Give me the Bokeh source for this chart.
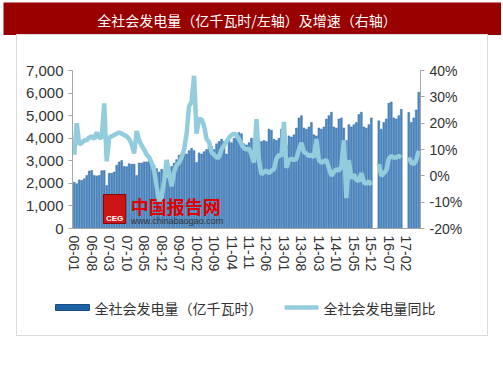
import numpy as np
from bokeh.plotting import figure
from bokeh.models import (Range1d, LinearAxis, FixedTicker, NumeralTickFormatter,
                          PrintfTickFormatter, ColumnDataSource, Spacer)
from bokeh.layouts import column, row
from bokeh.core.properties import value
from bokeh.embed import file_html
from bokeh.resources import INLINE

nan = float("nan")

title_text = "全社会发电量（亿千瓦时/左轴）及增速（右轴）"
bar_label = "全社会发电量（亿千瓦时）"
line_label = "全社会发电量同比"

# months 06-01 ... 17-07
months = [f"{y:02d}-{m:02d}" for y in range(6, 18) for m in range(1, 13)][:139]
tick_labels = ["06-01", "06-08", "07-03", "07-10", "08-05", "08-12", "09-07", "10-02",
               "10-09", "11-04", "11-11", "12-06", "13-01", "13-08", "14-03", "14-10",
               "15-05", "15-12", "16-07", "17-02"]

# 全社会发电量 (亿千瓦时)
gen_2006 = [2050, 1980, 2150, 2130, 2200, 2350, 2550, 2570, 2350, 2330, 2350, 2560]
gen_2007 = [2570, 1900, 2450, 2450, 2500, 2800, 2950, 3010, 2750, 2740, 2870, 2850]
gen_2008 = [2850, 2350, 2900, 2900, 2950, 2950, 3000, 3000, 2800, 2650, 2500, 2620]
gen_2009 = [2450, 2250, 2700, 2750, 2900, 3050, 3250, 3300, 3350, 3300, 3450, 3550]
gen_2010 = [3450, 2920, 3350, 3300, 3400, 3500, 3650, 3650, 3500, 3750, 3850, 3950]
gen_2011 = [3850, 3300, 3900, 3800, 4000, 4050, 4250, 4200, 3750, 3700, 3800, 4000]
gen_2012 = [3600, 3950, 3950, 3850, 3900, 3850, 4400, 4350, 3950, 3900, 4000, 4400]
gen_2013 = [4150, 3680, 4100, 4050, 4150, 4450, 4900, 5000, 4450, 4400, 4500, 4700]
gen_2014 = [4150, 4100, 4450, 4400, 4500, 4850, 5000, 5150, 4500, 4450, 4850, 4900]
gen_2015 = [4450, 3900, 4600, 4500, 4600, 4700, 5050, 5150, 4500, 4450, 4600, 4900]
gen_2016 = [nan, nan, 4770, 4400, 4700, 4850, 5550, 5600, 4900, 4850, 5000, 5280]
gen_2017 = [nan, nan, 5140, 4700, 4900, 5250, 6040]

# 全社会发电量同比 (%)
yoy_2006 = [8.0, 20.0, 12.0, 12.5, 13.5, 13.5, 14.5, 15.0, 14.0, 16.5, 14.5, 14.5]
yoy_2007 = [27.5, 5.5, 14.5, 15.0, 15.5, 16.0, 16.5, 16.0, 15.5, 15.0, 14.0, 12.0]
yoy_2008 = [8.5, 17.0, 13.5, 11.5, 10.0, 8.0, 7.0, 5.0, 2.0, -4.0, -9.5, -8.0]
yoy_2009 = [-2.0, 6.0, 1.0, -4.0, 1.5, 4.0, 5.0, 7.0, 10.0, 16.0, 26.5, 28.0]
yoy_2010 = [38.0, 16.0, 21.5, 21.5, 19.0, 14.0, 12.8, 9.0, 8.0, 7.0, 7.0, 10.0]
yoy_2011 = [11.5, 13.0, 14.5, 15.5, 16.0, 15.5, 14.0, 12.0, 10.5, 10.0, 10.5, 8.0]
yoy_2012 = [5.0, 21.5, 6.0, 0.5, 1.5, 2.0, 1.0, 2.0, 2.5, 6.5, 8.0, 7.5]
yoy_2013 = [20.5, 3.0, 6.0, 6.5, 6.0, 6.5, 10.0, 12.5, 9.0, 8.5, 7.5, 8.0]
yoy_2014 = [7.0, 14.0, 6.0, 5.0, 5.5, 6.0, 3.0, 0.0, 1.5, 2.5, 2.0, 3.5]
yoy_2015 = [13.5, -8.5, 6.0, -1.0, 0.5, -1.5, -2.0, 1.0, -2.5, -3.0, -2.0, -3.5]
yoy_2016 = [nan, nan, 4.5, 0.0, 1.0, 2.0, 6.5, 7.5, 7.0, 7.0, 7.5, 7.0]
yoy_2017 = [nan, nan, 7.0, 5.0, 4.5, 6.0, 9.5]

gen = (gen_2006 + gen_2007 + gen_2008 + gen_2009 + gen_2010 + gen_2011 + gen_2012 +
       gen_2013 + gen_2014 + gen_2015 + gen_2016 + gen_2017)
yoy = (yoy_2006 + yoy_2007 + yoy_2008 + yoy_2009 + yoy_2010 + yoy_2011 + yoy_2012 +
       yoy_2013 + yoy_2014 + yoy_2015 + yoy_2016 + yoy_2017)

idx = list(range(len(months)))
src = ColumnDataSource(dict(x=idx, gen=gen, yoy=yoy, m=months))

FONT = "Liberation Sans"
CJK = "Noto Sans CJK SC"
BAR_FILL = "#4F8AC2"
BAR_LINE = "#2A67A6"
LINE_COL = "#93CDDD"
ax_col = "#A6A6A6"
lab_col = "#333333"

# ---- title bar ----
pt = figure(width=498, height=33, x_range=(0, 1), y_range=(0, 1),
            toolbar_location=None, output_backend="svg", min_border=0,
            background_fill_color="#990000", border_fill_color="#990000",
            outline_line_color=None)
pt.axis.visible = False
pt.grid.visible = False
pt.text(x=[0.489], y=[0.476], text=[title_text], text_color="white",
        text_font=value(CJK), text_font_size="14px", text_align="center",
        text_baseline="middle")

# ---- chart ----
p = figure(width=470, height=255, x_range=Range1d(-0.7, 138.7), y_range=Range1d(0, 7000),
           toolbar_location=None, output_backend="svg",
           min_border_left=55, min_border_right=67, min_border_top=35, min_border_bottom=62,
           background_fill_color="white", border_fill_color="white",
           outline_line_color=None)
p.grid.visible = False
p.extra_y_ranges = {"pct": Range1d(-20, 40)}

bars = p.vbar(x="x", top="gen", width=0.72, source=src, fill_color=BAR_FILL,
              line_color=BAR_LINE, line_width=0.5)

# watermark
p.quad(left=[11.7], right=[20.6], bottom=[221], top=[1506], fill_color="#CC1414",
       line_color="#8B0000")
p.text(x=[16.15], y=[450], text=["CEG"], text_color="white", text_font=value(FONT),
       text_font_size="8px", text_font_style="bold", text_align="center",
       text_baseline="middle")
p.text(x=[22.6], y=[997], text=["中国报告网"], text_color="#E00000", text_font=value(CJK),
       text_font_size="18px", text_font_style="bold", text_baseline="middle")
p.text(x=[22.6], y=[354], text=["www.chinabaogao.com"], text_color="#333333",
       text_font=value(FONT), text_font_size="9px", text_baseline="middle")

line = p.line(x="x", y="yoy", source=src, y_range_name="pct", line_color=LINE_COL,
              line_width=4.5)

xa = p.xaxis[0]
xa.ticker = FixedTicker(ticks=[months.index(t) for t in tick_labels])
xa.major_label_overrides = {months.index(t): t for t in tick_labels}
xa.major_label_orientation = "vertical"
xa.major_tick_out = 0
xa.major_tick_in = 0
xa.minor_tick_out = 0
xa.minor_tick_in = 0
xa.major_label_standoff = 7
xa.axis_line_color = ax_col
xa.major_label_text_font = FONT
xa.major_label_text_font_size = "14px"
xa.major_label_text_color = lab_col

ya = p.yaxis[0]
ya.ticker = FixedTicker(ticks=[0, 1000, 2000, 3000, 4000, 5000, 6000, 7000])
ya.formatter = NumeralTickFormatter(format="0,0")

yr = LinearAxis(y_range_name="pct", ticker=FixedTicker(ticks=[-20, -10, 0, 10, 20, 30, 40]),
                formatter=PrintfTickFormatter(format="%d%%"))
p.add_layout(yr, "right")

for a in (ya, yr):
    a.major_tick_out = 4
    a.major_tick_in = 0
    a.minor_tick_out = 0
    a.minor_tick_in = 0
    a.major_label_standoff = 5
    a.axis_line_color = ax_col
    a.major_tick_line_color = ax_col
    a.major_label_text_font = FONT
    a.major_label_text_font_size = "14px"
    a.major_label_text_color = lab_col
ya.major_label_text_font_size = "15px"

# ---- legend strip (pixel coordinates of the strip) ----
pl = figure(width=470, height=45, x_range=Range1d(0, 470), y_range=Range1d(0, 45),
            toolbar_location=None, output_backend="svg", min_border=0,
            background_fill_color="white", border_fill_color="white",
            outline_line_color=None)
pl.axis.visible = False
pl.grid.visible = False
pl.quad(left=[38], right=[72], bottom=[25], top=[31], fill_color="#1F62A4",
        line_color="#174E86")
pl.text(x=[77], y=[28], text=[bar_label], text_color=lab_col, text_font=value(CJK),
        text_font_size="14px", text_baseline="middle")
pl.segment(x0=[267], y0=[28], x1=[301], y1=[28], line_color=LINE_COL, line_width=4.5)
pl.text(x=[306], y=[28], text=[line_label], text_color=lab_col, text_font=value(CJK),
        text_font_size="14px", text_baseline="middle")

inner = column(p, row(pl))
inner.styles = {"outline": "1px solid #DADADA"}

root = row(Spacer(width=3, height=340),
           column(Spacer(width=498, height=2), pt, row(Spacer(width=14, height=300), inner)))

open("out.html", "w").write(file_html(root, INLINE))
